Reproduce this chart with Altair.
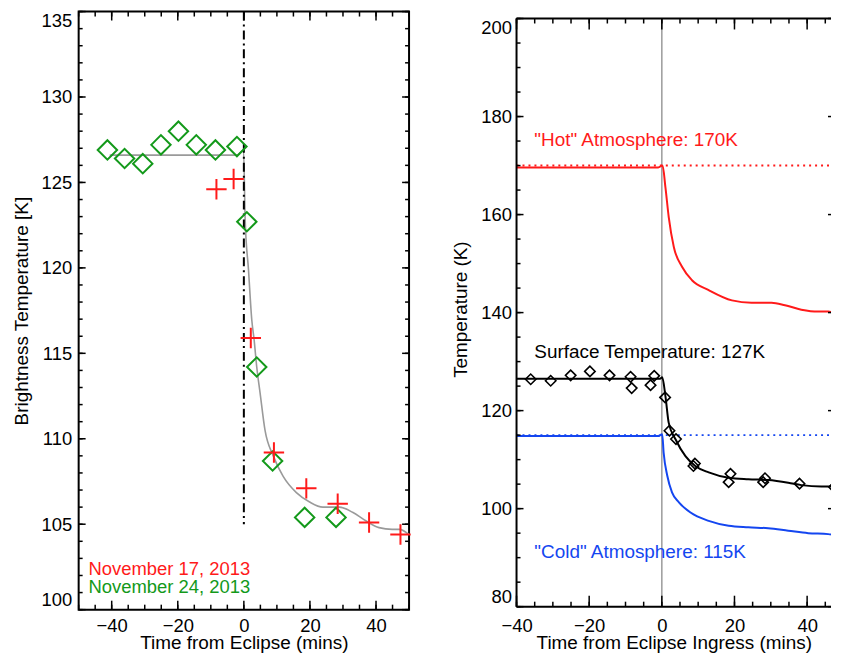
import altair as alt
import pandas as pd

FONT = "Liberation Sans"
RED = "#ff1a1a"
GREEN = "#13991a"
BLUE = "#1446f0"
GRAY = "#9a9a9a"

# ---------------- Left panel data ----------------
green_t = [-41.3, -36.1, -30.6, -25.1, -19.8, -14.4, -8.6, -2.1, 0.9, 3.9, 8.7, 18.4, 27.9]
green_T = [126.9, 126.4, 126.1, 127.2, 128.0, 127.2, 126.9, 127.1, 122.7, 114.2, 108.7, 105.4, 105.4]
red_t = [-8.3, -3.1, 2.1, 9.1, 18.9, 28.4, 37.9, 47.4]
red_T = [124.6, 125.2, 115.9, 109.2, 107.1, 106.2, 105.1, 104.4]
fit_t = [-40.6, -2.1, -0.1, 0.4, 1.4, 2.4, 3.1, 3.9, 4.9, 6.4, 8.9, 11.9, 15.9, 19.9,
         23.9, 28.9, 32.9, 36.9, 40.9, 44.9, 47.1, 49.9]
fit_T = [126.6, 126.6, 126.9, 122.8, 119.9, 116.95, 115.8, 114.2, 112.7, 110.5, 109.0, 107.8,
         106.85, 106.3, 106.0, 106.0, 105.7, 105.2, 104.8, 104.7, 104.7, 104.4]
eclipse_line_t = [0]
eclipse_line_top = [135]
eclipse_line_bottom = [105]
left_labels = ["November 17, 2013", "November 24, 2013"]
left_label_t = [-47.0, -47.0]
left_label_T = [102.35, 101.3]
left_label_colors = [RED, GREEN]

# ---------------- Right panel data ----------------
surf_t = [-40, -0.5, 0.1, 1.0, 1.9, 3.8, 6.5, 9.2, 12.9, 18.4, 23.8, 29.3, 34.8, 38.4, 43.9, 50]
surf_T = [126.5, 126.5, 126.8, 122.9, 117.5, 114.1, 110.7, 108.7, 107.4, 106.3, 106.0, 105.85,
          105.3, 104.8, 104.5, 104.5]
hot_t = [-40, -1.0, 0.2, 1.0, 1.9, 3.3, 5.6, 8.3, 12.9, 19.3, 24.7, 30.2, 33.9, 38.4, 43.0, 45.8, 48.5, 50]
hot_T = [169.6, 169.6, 170.0, 165.5, 159.5, 153.4, 149.3, 146.6, 144.6, 142.5, 142.0, 142.0,
         141.5, 140.6, 140.2, 140.2, 139.7, 139.5]
cold_t = [-40, -1.0, 0.1, 0.5, 1.5, 2.8, 4.7, 7.9, 12.9, 18.4, 23.8, 29.3, 34.8, 40.3, 45.8, 48.8, 50]
cold_T = [114.8, 114.8, 115.2, 111.4, 106.7, 103.3, 101.3, 99.2, 97.5, 96.5, 96.2, 96.0, 95.5,
          95.0, 94.8, 94.5, 94.4]
hot_level = 170
cold_level = 115
level_t = [-40, 50]
right_labels = ['"Hot" Atmosphere: 170K', "Surface Temperature: 127K", '"Cold" Atmosphere: 115K']
right_label_t = [-35.1, -35.1, -35.1]
right_label_T = [175.2, 132.0, 91.2]
right_label_colors = [RED, "black", BLUE]

# ---------------- axes / ticks ----------------
W1, H1 = 332, 601
W2, H2 = 316, 591
TOPGAP = 7            # right panel frame sits a little lower than the left one

L_XDOM, L_YDOM = [-50, 50], [100, 135]
R_XDOM = [-40, -40 + W2 * 20 / 73.0]                  # panel is cut at the page edge
R_YDOM = [80, 200 + TOPGAP * 120 / H2]
L_xlabels = [-40, -20, 0, 20, 40]
L_ylabels = [100, 105, 110, 115, 120, 125, 130, 135]
L_xminor = list(range(-50, 51, 5))
L_yminor = list(range(100, 136, 1))
R_xlabels = [-40, -20, 0, 20, 40]
R_ylabels = [80, 100, 120, 140, 160, 180, 200]
R_xminor = list(range(-40, 46, 5))
R_yminor = list(range(80, 201, 5))


def axis_x(title, values, pad):
    return alt.Axis(title=title, values=values, ticks=False, tickSize=0, domain=False, grid=False,
                    labelFont=FONT, titleFont=FONT, labelFontSize=18.5, titleFontSize=19,
                    labelColor="black", titleColor="black", titleFontWeight="normal",
                    labelPadding=pad, titlePadding=-1, labelFlush=False, labelOverlap=False,
                    format="d")


def axis_y(title, values, pad, tpad):
    return alt.Axis(title=title, values=values, ticks=False, tickSize=0, domain=False, grid=False,
                    labelFont=FONT, titleFont=FONT, labelFontSize=18.5, titleFontSize=19,
                    labelColor="black", titleColor="black", titleFontWeight="normal",
                    labelPadding=pad, titlePadding=tpad, labelFlush=9, labelOverlap=False,
                    format="d")


def tick_layers(xs, ys, xax, yax, W, H, top, xmajor, xminor, ymajor, yminor, xl, yl,
                right_minor=True, right_len=None):
    layers = []
    for vals, ln in ((xminor, xl[1]), (xmajor, xl[0])):
        df = pd.DataFrame({"t": vals})
        for y0, y1 in ((H, H - ln), (top, top + ln)):
            layers.append(alt.Chart(df).mark_rule(color="black", strokeWidth=1.5).encode(
                x=alt.X("t:Q", scale=xs, axis=xax), y=alt.value(y0), y2=alt.value(y1)))
    for vals, ln, major in ((yminor, yl[1], False), (ymajor, yl[0], True)):
        df = pd.DataFrame({"T": vals})
        layers.append(alt.Chart(df).mark_rule(color="black", strokeWidth=1.5).encode(
            y=alt.Y("T:Q", scale=ys, axis=yax), x=alt.value(0), x2=alt.value(ln)))
        if major or right_minor:
            rl = ln if right_len is None else right_len
            layers.append(alt.Chart(df).mark_rule(color="black", strokeWidth=1.5).encode(
                y=alt.Y("T:Q", scale=ys, axis=yax), x=alt.value(W), x2=alt.value(W - rl)))
    return layers


# ---------------- Left panel ----------------
xs1 = alt.Scale(domain=L_XDOM, nice=False, zero=False)
ys1 = alt.Scale(domain=L_YDOM, nice=False, zero=False)
xa1 = axis_x("Time from Eclipse (mins)", L_xlabels, 7)
ya1 = axis_y("Brightness Temperature [K]", L_ylabels, 7, 10)
X1 = alt.X("t:Q", scale=xs1, axis=xa1)
Y1 = alt.Y("T:Q", scale=ys1, axis=ya1)

fit_df = pd.DataFrame({"t": fit_t, "T": fit_T})
fit = alt.Chart(fit_df).mark_line(color=GRAY, strokeWidth=1.6, interpolate="monotone").encode(x=X1, y=Y1)

ecl_df = pd.DataFrame({"t": eclipse_line_t, "T": eclipse_line_top, "T1": eclipse_line_bottom})
ecl = alt.Chart(ecl_df).mark_rule(color="black", strokeWidth=2, strokeDash=[9, 4, 2, 4]).encode(
    x=X1, y=Y1, y2="T1:Q")

green_df = pd.DataFrame({"t": green_t, "T": green_T})
green = alt.Chart(green_df).mark_point(shape="diamond", size=380, filled=False, color=GREEN,
                                       strokeWidth=2, opacity=1).encode(x=X1, y=Y1)

red_df = pd.DataFrame({"t": red_t, "T": red_T})
red = alt.Chart(red_df).mark_point(shape="M-1,0L1,0M0,-1L0,1", size=420, filled=False, color=RED,
                                   strokeWidth=2, opacity=1).encode(x=X1, y=Y1)

ll_df = pd.DataFrame({"t": left_label_t, "T": left_label_T, "txt": left_labels, "c": left_label_colors})
ll = alt.Chart(ll_df).mark_text(align="left", baseline="middle", font=FONT, fontSize=18.5).encode(
    x=X1, y=Y1, text="txt:N", color=alt.Color("c:N", scale=None))

left = alt.layer(
    fit, ecl, green, red, ll,
    *tick_layers(xs1, ys1, xa1, ya1, W1, H1, 0, L_xlabels, L_xminor, L_ylabels, L_yminor,
                 xl=(9, 5), yl=(7, 4))
).properties(width=W1, height=H1)

# ---------------- Right panel ----------------
HR = H2 + TOPGAP
xs2 = alt.Scale(domain=R_XDOM, nice=False, zero=False)
ys2 = alt.Scale(domain=R_YDOM, nice=False, zero=False)
xa2 = axis_x("Time from Eclipse Ingress (mins)", R_xlabels, 10)
ya2 = axis_y("Temperature (K)", R_ylabels, 5, 10)
X2 = alt.X("t:Q", scale=xs2, axis=xa2)
Y2 = alt.Y("T:Q", scale=ys2, axis=ya2)

one = pd.DataFrame({"k": [0]})
frame = [
    alt.Chart(one).mark_rule(color="black", strokeWidth=2).encode(
        x=alt.value(0), y=alt.value(TOPGAP), y2=alt.value(HR)),
    alt.Chart(one).mark_rule(color="black", strokeWidth=2).encode(
        x=alt.value(0), x2=alt.value(W2), y=alt.value(TOPGAP)),
    alt.Chart(one).mark_rule(color="black", strokeWidth=2).encode(
        x=alt.value(0), x2=alt.value(W2), y=alt.value(HR)),
]

vline_df = pd.DataFrame({"t": [0]})
vline = alt.Chart(vline_df).mark_rule(color=GRAY, strokeWidth=1.5).encode(
    x=X2, y=alt.value(TOPGAP), y2=alt.value(HR))

lev_df = pd.DataFrame({"t": level_t + level_t,
                       "T": [hot_level, hot_level, cold_level, cold_level],
                       "g": ["hot", "hot", "cold", "cold"]})
levels = alt.Chart(lev_df).mark_line(strokeWidth=2, strokeDash=[2, 4], clip=True).encode(
    x=X2, y=Y2, detail="g:N",
    color=alt.Color("g:N", scale=alt.Scale(domain=["hot", "cold"], range=[RED, BLUE]), legend=None))

hot = alt.Chart(pd.DataFrame({"t": hot_t, "T": hot_T})).mark_line(
    color=RED, strokeWidth=2, interpolate="monotone", clip=True).encode(x=X2, y=Y2)
cold = alt.Chart(pd.DataFrame({"t": cold_t, "T": cold_T})).mark_line(
    color=BLUE, strokeWidth=2, interpolate="monotone", clip=True).encode(x=X2, y=Y2)
surf = alt.Chart(pd.DataFrame({"t": surf_t, "T": surf_T})).mark_line(
    color="black", strokeWidth=2, interpolate="monotone", clip=True).encode(x=X2, y=Y2)

obs_df = pd.DataFrame({"t": green_t + red_t, "T": green_T + red_T})
obs = alt.Chart(obs_df).transform_filter(alt.datum.t >= R_XDOM[0]).mark_point(
    shape="diamond", size=110, filled=False, color="black", strokeWidth=1.6, opacity=1,
    clip=True).encode(x=X2, y=Y2)

rl_df = pd.DataFrame({"t": right_label_t, "T": right_label_T, "txt": right_labels, "c": right_label_colors})
rl = alt.Chart(rl_df).mark_text(align="left", baseline="middle", font=FONT, fontSize=19).encode(
    x=X2, y=Y2, text="txt:N", color=alt.Color("c:N", scale=None))

right = alt.layer(
    vline, levels, hot, cold, surf, obs, rl, *frame,
    *tick_layers(xs2, ys2, xa2, ya2, W2, HR, TOPGAP, R_xlabels, R_xminor, R_ylabels, R_yminor,
                 xl=(11, 5), yl=(7, 4), right_minor=False, right_len=3)
).properties(width=W2, height=HR,
             view=alt.ViewBackground(stroke="transparent")).resolve_scale(color="independent")

chart = alt.hconcat(left, right, spacing=35).properties(
    padding={"left": 3, "top": 0, "right": 0, "bottom": 0}
).configure_view(stroke="black", strokeWidth=2)

chart.save("out.html", embed_options={"renderer": "svg", "actions": False})
